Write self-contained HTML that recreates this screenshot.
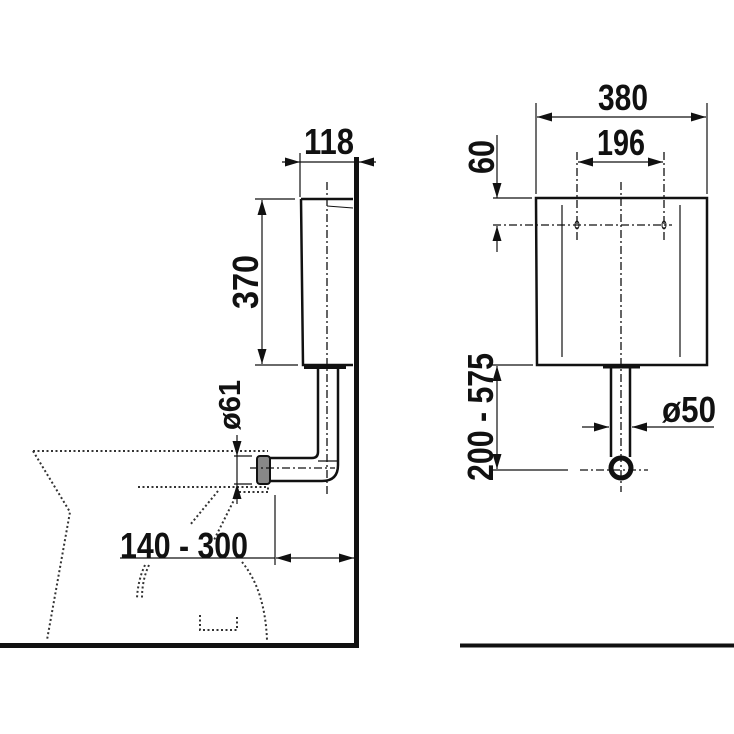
<!DOCTYPE html>
<html><head><meta charset="utf-8"><style>
html,body{margin:0;padding:0;background:#fff;}
svg{display:block}
text{font-family:"Liberation Sans Narrow","Liberation Sans",sans-serif;font-weight:bold;fill:#111}
</style></head><body>
<svg width="734" height="734" viewBox="0 0 734 734" xmlns="http://www.w3.org/2000/svg">
<defs>
<marker id="a" viewBox="0 0 10 6" refX="10" refY="3" markerWidth="18" markerHeight="9" markerUnits="userSpaceOnUse" orient="auto-start-reverse"><path d="M0,0L10,3L0,6z" fill="#111"/></marker>
</defs>
<g stroke="#111" fill="none">
<line x1="356.5" y1="157" x2="356.5" y2="648" stroke-width="5"/>
<line x1="0" y1="645.5" x2="359" y2="645.5" stroke-width="5"/>
<line x1="460" y1="645.5" x2="734" y2="645.5" stroke-width="4"/>

<g stroke-width="2" stroke-dasharray="2 2.5" stroke="#333">
<path d="M33,451 H268"/>
<path d="M33,451 L70,512 L47,640"/>
<path d="M138,487 H268 L268,492 L238,492 L214,540"/>
<path d="M218,491 L190,525"/>
<path d="M145,565 Q138,580 137,598 M149,565 Q142,580 142,598"/>
<path d="M242,562 Q265,590 267,640"/>
<path d="M200,615 V630 H237 V615"/>
</g>

<path d="M301,199 H353" stroke-width="2.5"/>
<path d="M301,199 L303,365 H353" stroke-width="2.5"/>
<path d="M327,206 L353,208" stroke-width="1"/>
<line x1="304" y1="367" x2="346" y2="367" stroke-width="4"/>
<path d="M318,368 V452 Q318,458 312,458 H270" stroke-width="2.5"/>
<path d="M338,368 V465 Q338,481 322,481 H270" stroke-width="2.5"/>
<path d="M318,461 H338" stroke-width="1.2"/>
<rect x="257" y="456" width="13" height="28" fill="#888" stroke-width="2" rx="3"/>
<g stroke-width="1.3" stroke-dasharray="8 3 2 3">
<line x1="327" y1="182" x2="327" y2="495"/>
<line x1="250" y1="468" x2="335" y2="468"/>
</g>

<g stroke-width="1.2">
<line x1="300" y1="153" x2="300" y2="197"/>
<line x1="300" y1="162" x2="356" y2="162"/>
<line x1="282" y1="162" x2="300" y2="162" marker-end="url(#a)"/>
<line x1="376" y1="162" x2="359" y2="162" marker-end="url(#a)"/>
<line x1="255" y1="199" x2="295" y2="199"/>
<line x1="255" y1="365" x2="298" y2="365"/>
<line x1="262" y1="200" x2="262" y2="364" marker-start="url(#a)" marker-end="url(#a)"/>
<line x1="234" y1="456" x2="252" y2="456"/>
<line x1="234" y1="484" x2="252" y2="484"/>
<line x1="237" y1="456" x2="237" y2="484"/>
<line x1="237" y1="435" x2="237" y2="456" marker-end="url(#a)"/>
<line x1="237" y1="504" x2="237" y2="484" marker-end="url(#a)"/>
<line x1="275" y1="495" x2="275" y2="565"/>
<line x1="120" y1="558" x2="275" y2="558"/>
<line x1="276" y1="558" x2="354" y2="558" marker-start="url(#a)" marker-end="url(#a)"/>
</g>

<path d="M536,198 H707 V365 H537 Z" stroke-width="2.5"/>
<line x1="562" y1="205" x2="562" y2="357" stroke-width="1.2"/>
<line x1="680" y1="205" x2="680" y2="357" stroke-width="1.2"/>
<line x1="603" y1="366.5" x2="640" y2="366.5" stroke-width="4"/>
<line x1="611" y1="368" x2="611" y2="457" stroke-width="2.5"/>
<line x1="630" y1="368" x2="630" y2="457" stroke-width="2.5"/>
<circle cx="621" cy="468" r="10" stroke-width="5"/>
<ellipse cx="577" cy="225" rx="2" ry="4" stroke-width="1"/>
<ellipse cx="664" cy="225" rx="2" ry="4" stroke-width="1"/>
<g stroke-width="1.3" stroke-dasharray="8 3 2 3">
<line x1="621" y1="182" x2="621" y2="492"/>
<line x1="493" y1="225" x2="672" y2="225"/>
<line x1="577" y1="152" x2="577" y2="240"/>
<line x1="664" y1="152" x2="664" y2="240"/>
<line x1="580" y1="470" x2="648" y2="470"/>
</g>
<g stroke-width="1.2">
<line x1="536" y1="103" x2="536" y2="194"/>
<line x1="707" y1="103" x2="707" y2="194"/>
<line x1="537" y1="117" x2="706" y2="117" marker-start="url(#a)" marker-end="url(#a)"/>
<line x1="578" y1="162" x2="663" y2="162" marker-start="url(#a)" marker-end="url(#a)"/>
<line x1="493" y1="198" x2="532" y2="198"/>
<line x1="497" y1="135" x2="497" y2="198" marker-end="url(#a)"/>
<line x1="497" y1="252" x2="497" y2="226" marker-end="url(#a)"/>
<line x1="490" y1="365" x2="533" y2="365"/>
<line x1="490" y1="470" x2="568" y2="470"/>
<line x1="497" y1="366" x2="497" y2="469" marker-start="url(#a)" marker-end="url(#a)"/>
<line x1="582" y1="427" x2="609" y2="427" marker-end="url(#a)"/>
<line x1="714" y1="427" x2="632" y2="427" marker-end="url(#a)"/>
</g>
</g>

<text x="329" y="154" font-size="36" text-anchor="middle" textLength="50" lengthAdjust="spacingAndGlyphs">118</text>
<text transform="translate(258,282) rotate(-90)" font-size="36" text-anchor="middle" textLength="54" lengthAdjust="spacingAndGlyphs">370</text>
<text transform="translate(240,405) rotate(-90)" font-size="31" text-anchor="middle" textLength="50" lengthAdjust="spacingAndGlyphs">ø61</text>
<text x="184" y="558" font-size="36" text-anchor="middle" textLength="128" lengthAdjust="spacingAndGlyphs">140 - 300</text>
<text x="623" y="110" font-size="36" text-anchor="middle" textLength="50" lengthAdjust="spacingAndGlyphs">380</text>
<text x="621" y="155" font-size="36" text-anchor="middle" textLength="48" lengthAdjust="spacingAndGlyphs">196</text>
<text transform="translate(494,157) rotate(-90)" font-size="36" text-anchor="middle" textLength="34" lengthAdjust="spacingAndGlyphs">60</text>
<text transform="translate(493,417) rotate(-90)" font-size="36" text-anchor="middle" textLength="128" lengthAdjust="spacingAndGlyphs">200 - 575</text>
<text x="689" y="422" font-size="36" text-anchor="middle" textLength="54" lengthAdjust="spacingAndGlyphs">ø50</text>
</svg>
</body></html>
